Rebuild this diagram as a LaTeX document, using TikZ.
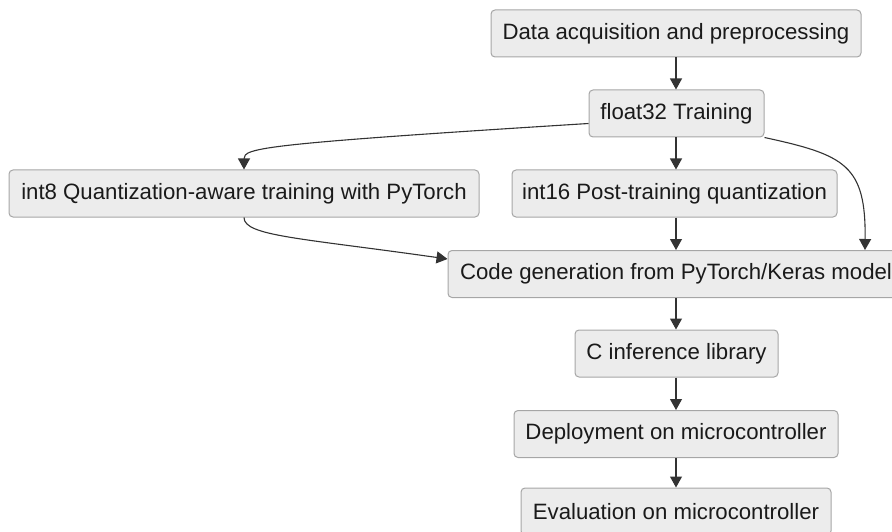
\documentclass[tikz,border=0pt]{standalone}
\usepackage{fontspec}
\setmainfont{Liberation Sans}
\usetikzlibrary{arrows.meta,calc}
\definecolor{boxfill}{HTML}{ECECEC}
\definecolor{boxline}{HTML}{A6A6A6}
\definecolor{edge}{HTML}{333333}
\definecolor{txt}{HTML}{1A1A1A}
\begin{document}
\begin{tikzpicture}[x=1pt,y=-1pt,
  box/.style={draw=boxline,fill=boxfill,line width=1pt,rounded corners=4pt,
    minimum height=47pt,inner sep=0pt,text=txt,
    font=\fontsize{22.2}{26}\selectfont},
  flow/.style={draw=edge,line width=1.1pt,-{Triangle[length=11pt,width=12pt]}}]
\useasboundingbox (0,0) rectangle (892,532);
\node[box,minimum width=370pt] (d) at (676,33.5) {Data acquisition and preprocessing};
\node[box,minimum width=175pt] (f) at (676.5,113.5) {float32 Training};
\node[box,minimum width=470pt] (q8) at (244,193.5) {int8 Quantization-aware training with PyTorch};
\node[box,minimum width=325pt] (q16) at (674.5,193.5) {int16 Post-training quantization};
\node[box,minimum width=456pt] (c) at (676,274) {Code generation from PyTorch/Keras model};
\node[box,minimum width=203pt] (lib) at (676.5,353.5) {C inference library};
\node[box,minimum width=324pt] (dep) at (676,434) {Deployment on microcontroller};
\node[box,minimum width=310pt] (ev) at (676,511.5) {Evaluation on microcontroller};
\draw[flow] (d.south -| 676,0) -- (f.north -| 676,0);
\draw[flow] ($(f.west)+(0,10)$) .. controls (260,144) and (244,148) .. (q8.north);
\draw[flow] (f.south -| 676,0) -- (q16.north -| 676,0);
\draw[flow] (f.south east) .. controls (845,155) and (866,165) .. ($(c.north)+(189,0)$);
\draw[flow] (q8.south) .. controls (244,236) and (300,238) .. ($(c.west)+(0,-15)$);
\draw[flow] (q16.south -| 676,0) -- (c.north -| 676,0);
\draw[flow] (c.south -| 676,0) -- (lib.north -| 676,0);
\draw[flow] (lib.south -| 676,0) -- (dep.north -| 676,0);
\draw[flow] (dep.south -| 676,0) -- (ev.north -| 676,0);
\end{tikzpicture}
\end{document}
